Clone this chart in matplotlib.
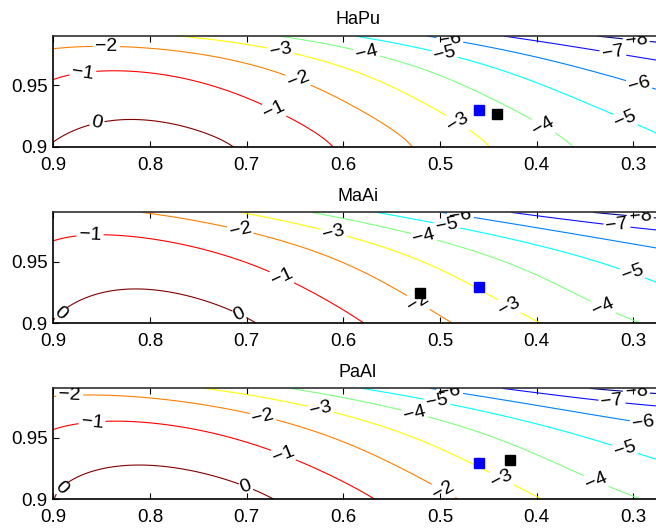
import numpy as np
import matplotlib
matplotlib.use('Agg')
import matplotlib.pyplot as plt

plt.rcParams['font.family'] = ['Liberation Sans', 'DejaVu Sans']

titles = ['HaPu', 'MaAi', 'PaAl']
levels = [-8, -7, -6, -5, -4, -3, -2, -1, 0]
level_colors = ['#000090', '#1010ff', '#0080ff', '#00ffff', '#80ff80',
                '#ffff00', '#ff8000', '#ff0000', '#800000']
xticks = [0.9, 0.8, 0.7, 0.6, 0.5, 0.4, 0.3]
xticklabels = ['0.9', '0.8', '0.7', '0.6', '0.5', '0.4', '0.3']
yticks = [0.9, 0.95]
yticklabels = ['0.9', '0.95']

# Contour crossing points: level -> [(x, y), ...]
hapu_pts = {
    0: [(0.9, 0.9), (0.872, 0.918), (0.817, 0.925), (0.762, 0.9166), (0.707, 0.9)],
    -1: [(0.9, 0.952), (0.828, 0.962), (0.748, 0.9536), (0.679, 0.933), (0.611, 0.9)],
    -2: [(0.9, 0.980), (0.824, 0.983), (0.714, 0.974), (0.645, 0.955), (0.619, 0.946), (0.529, 0.9)],
    -3: [(0.783, 0.99), (0.672, 0.9795), (0.619, 0.9705), (0.555, 0.9494), (0.486, 0.922), (0.449, 0.9)],
    -4: [(0.662, 0.99), (0.619, 0.984), (0.521, 0.9617), (0.452, 0.941), (0.4, 0.9194), (0.36, 0.9)],
    -5: [(0.6, 0.99), (0.486, 0.974), (0.383, 0.9494), (0.313, 0.9276), (0.278, 0.911)],
    -6: [(0.511, 0.99), (0.417, 0.9768), (0.3, 0.955), (0.278, 0.947)],
    -7: [(0.417, 0.99), (0.32, 0.9768), (0.278, 0.9645)],
    -8: [(0.355, 0.99), (0.278, 0.9863)],
}
maai_pts = {
    0: [(0.9, 0.9), (0.869, 0.9203), (0.817, 0.931), (0.748, 0.9243), (0.683, 0.9)],
    -1: [(0.9, 0.9622), (0.834, 0.973), (0.748, 0.965), (0.665, 0.935), (0.619, 0.9188), (0.579, 0.9)],
    -2: [(0.807, 0.99), (0.707, 0.9757), (0.619, 0.954), (0.555, 0.935), (0.521, 0.916), (0.488, 0.9)],
    -3: [(0.707, 0.99), (0.619, 0.9763), (0.521, 0.95), (0.459, 0.9297), (0.397, 0.9)],
    -4: [(0.631, 0.99), (0.521, 0.9703), (0.417, 0.9433), (0.348, 0.9216), (0.291, 0.9)],
    -5: [(0.567, 0.99), (0.452, 0.9757), (0.348, 0.954), (0.278, 0.935)],
    -6: [(0.5, 0.99), (0.383, 0.977), (0.278, 0.961)],
    -7: [(0.417, 0.99), (0.328, 0.981), (0.278, 0.9757)],
    -8: [(0.348, 0.99), (0.278, 0.9866)],
}
paal_pts = {
    0: [(0.9, 0.9), (0.869, 0.917), (0.81, 0.930), (0.748, 0.9236), (0.669, 0.9)],
    -1: [(0.9, 0.9545), (0.834, 0.9653), (0.748, 0.9585), (0.662, 0.9357), (0.619, 0.9223), (0.569, 0.9)],
    -2: [(0.9, 0.9835), (0.817, 0.985), (0.714, 0.972), (0.619, 0.9525), (0.555, 0.9303), (0.507, 0.9115), (0.483, 0.9)],
    -3: [(0.752, 0.99), (0.631, 0.9747), (0.538, 0.953), (0.459, 0.929), (0.393, 0.9)],
    -4: [(0.645, 0.99), (0.624, 0.9847), (0.521, 0.9666), (0.417, 0.9384), (0.348, 0.917), (0.291, 0.9)],
    -5: [(0.579, 0.99), (0.452, 0.9704), (0.348, 0.9519), (0.278, 0.9344)],
    -6: [(0.514, 0.99), (0.383, 0.976), (0.278, 0.9585)],
    -7: [(0.431, 0.99), (0.321, 0.9812), (0.278, 0.9772)],
    -8: [(0.355, 0.99), (0.278, 0.9855)],
}
panel_pts = [hapu_pts, maai_pts, paal_pts]

# Markers (x, y)
blue_pts = [(0.46, 0.9298), (0.46, 0.9297), (0.46, 0.9295)]
black_pts = [(0.441, 0.927), (0.521, 0.9248), (0.428, 0.932)]

# Contour labels (level, x, y) as placed in the picture
hapu_labels = [(0, 0.855, 0.92), (-1, 0.869, 0.9576), (-2, 0.845, 0.981), (-3, 0.665, 0.977),
               (-2, 0.648, 0.952), (-1, 0.672, 0.929), (-4, 0.576, 0.9754), (-6, 0.49, 0.9863),
               (-5, 0.495, 0.9754), (-3, 0.483, 0.918), (-4, 0.393, 0.9166), (-8, 0.297, 0.9863),
               (-7, 0.321, 0.9768), (-6, 0.293, 0.9535), (-5, 0.309, 0.9207)]
maai_labels = [(0, 0.891, 0.9067), (-1, 0.862, 0.9717), (-2, 0.707, 0.9744), (-1, 0.665, 0.935),
               (0, 0.707, 0.908), (-3, 0.61, 0.973), (-4, 0.517, 0.969), (-5, 0.493, 0.9784),
               (-6, 0.479, 0.9865), (-2, 0.524, 0.9149), (-3, 0.429, 0.9135), (-4, 0.331, 0.9135),
               (-5, 0.302, 0.9378), (-7, 0.317, 0.9784), (-8, 0.293, 0.9852)]
paal_labels = [(-2, 0.883, 0.9831), (-1, 0.86, 0.9629), (0, 0.89, 0.9075), (0, 0.7, 0.9115),
               (-1, 0.662, 0.9357), (-2, 0.683, 0.9667), (-3, 0.624, 0.9707), (-4, 0.526, 0.9702),
               (-5, 0.503, 0.9796), (-6, 0.49, 0.9877), (-3, 0.436, 0.917), (-2, 0.497, 0.906),
               (-4, 0.338, 0.9156), (-5, 0.309, 0.9398), (-6, 0.29, 0.9613), (-7, 0.322, 0.9792),
               (-8, 0.297, 0.9856)]
panel_labels = [hapu_labels, maai_labels, paal_labels]

XMIN, XMAX, YMIN, YMAX = 0.27, 0.9, 0.9, 0.99


def basis(x, y, deg=4):
    u = (0.9 - np.asarray(x)) / 0.63
    v = (np.asarray(y) - 0.9) / 0.09
    cols = []
    for i in range(deg + 1):
        for j in range(deg + 1 - i):
            cols.append(u ** i * v ** j)
    return np.stack(cols, axis=-1)


def fit_surface(pts, labels):
    xs, ys, zs = [], [], []
    for lev, plist in pts.items():
        for (px, py) in plist:
            xs.append(px); ys.append(py); zs.append(lev)
    for (lev, px, py) in labels:
        xs.append(px); ys.append(py); zs.append(lev)
    A = basis(xs, ys)
    lam = 1e-4
    n = A.shape[1]
    coef = np.linalg.solve(A.T @ A + lam * np.eye(n), A.T @ np.array(zs, float))
    return coef


def fmt(v):
    v = int(round(v))
    return '\u2212%d' % (-v) if v < 0 else '%d' % v


fig = plt.figure(figsize=(6.56, 5.32), dpi=100)
bottoms = [0.7237, 0.3923, 0.0615]
left = 53.3 / 656
width = (0.63 * 966.7) / 656
height = 0.2085

gx = np.linspace(0.25, 0.9, 400)
gy = np.linspace(0.9, 0.99, 250)
GX, GY = np.meshgrid(gx, gy)

for k in range(3):
    ax = fig.add_axes([left, bottoms[k], width, height])
    coef = fit_surface(panel_pts[k], panel_labels[k])
    Z = basis(GX, GY) @ coef
    cs = ax.contour(GX, GY, Z, levels=levels, colors=level_colors, linewidths=0.8)
    ax.clabel(cs, manual=[(lx, ly) for (_, lx, ly) in panel_labels[k]], inline=True,
              fontsize=14, fmt=fmt, colors='k', inline_spacing=2)
    bx, by = blue_pts[k]
    kx, ky = black_pts[k]
    ax.plot([bx], [by], 's', color='#0000ff', ms=7.5, mec='#0000ff', zorder=5)
    ax.plot([kx], [ky], 's', color='k', ms=7.5, mec='k', zorder=5)
    ax.set_xlim(XMAX, XMIN)
    ax.set_ylim(YMIN, YMAX)
    ax.set_xticks(xticks)
    ax.set_xticklabels(xticklabels)
    ax.set_yticks(yticks)
    ax.set_yticklabels(yticklabels)
    ax.tick_params(direction='in', top=True, right=True, length=4.5, width=0.8,
                   labelsize=13.5)
    ax.tick_params(axis='x', pad=7)
    ax.tick_params(axis='y', pad=4)
    for s in ax.spines.values():
        s.set_linewidth(1.2)
    ax.spines['top'].set_color('#303030')
    ax.set_title(titles[k], fontsize=13, pad=8.5)

fig.savefig('out.png', dpi=100)
